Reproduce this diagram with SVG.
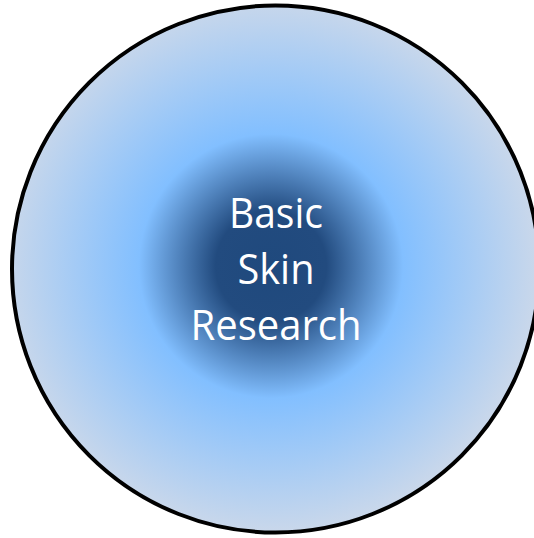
<svg xmlns="http://www.w3.org/2000/svg" width="534" height="538" viewBox="0 0 534 538">
  <defs>
    <radialGradient id="g" gradientUnits="userSpaceOnUse" cx="271" cy="266" r="264">
      <stop offset="0" stop-color="#1f497d"/>
      <stop offset="0.21" stop-color="#224b7f"/>
      <stop offset="0.5" stop-color="#82bfff"/>
      <stop offset="1" stop-color="#c8d7eb"/>
    </radialGradient>
  </defs>
  <style>
    .lbl { font-family: "Open Sans", "Liberation Sans", sans-serif; font-size: 42px; fill: #ffffff; text-anchor: middle; }
  </style>
  <rect width="534" height="538" fill="#ffffff"/>
  <g id="node-basic-skin-research">
    <circle cx="275.5" cy="269" r="263.5" fill="url(#g)" stroke="#000000" stroke-width="4"/>
    <text class="lbl" x="276" y="228" textLength="94" lengthAdjust="spacingAndGlyphs">Basic</text>
    <text class="lbl" x="276" y="284" textLength="77" lengthAdjust="spacingAndGlyphs">Skin</text>
    <text class="lbl" x="276" y="340" textLength="171" lengthAdjust="spacingAndGlyphs">Research</text>
  </g>
  <g id="connectors"/>
</svg>
